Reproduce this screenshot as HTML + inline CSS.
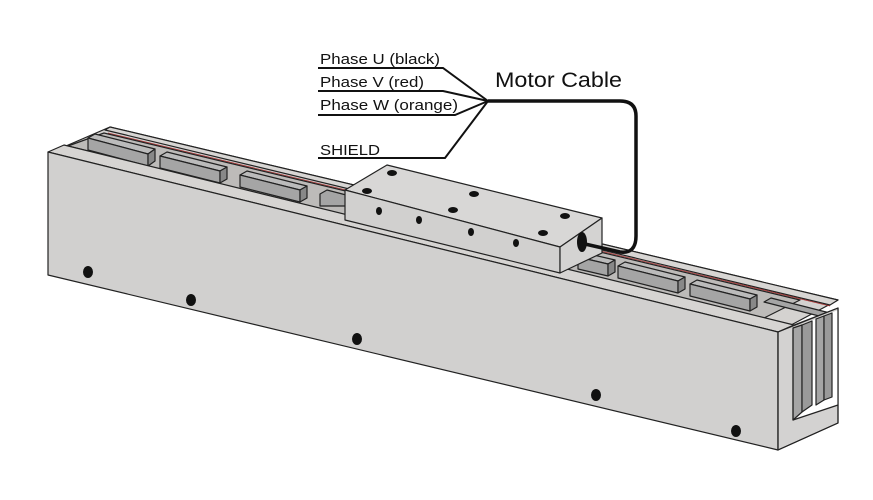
<!DOCTYPE html>
<html><head><style>body{margin:0;background:#fff}svg{display:block}</style></head><body>
<svg width="873" height="500" viewBox="0 0 873 500" xmlns="http://www.w3.org/2000/svg" font-family="Liberation Sans, sans-serif">
<g stroke="#222" stroke-width="1.2" stroke-linejoin="round">
<polygon points="52,152 110,127 838,300 778,332" fill="#d4d2d0"/>
<polygon points="105,130 110,127 838,300 830,305" fill="#d8d6d4"/>
<line x1="108" y1="133" x2="830" y2="306" stroke="#a33" stroke-width="0.8"/>
<polygon points="68,146 104,133 800,300 760,320" fill="#bdbbb9"/>
<g fill="#a5a5a5">
<polygon points="88,138 95,134 155,149 148,154" fill="#bbb"/>
<polygon points="88,138 148,154 148,166 88,150"/>
<polygon points="148,154 155,149 155,161 148,166" fill="#888"/>
<polygon points="160,156 167,152 227,167 220,171" fill="#bbb"/>
<polygon points="160,156 220,171 220,183 160,168"/>
<polygon points="220,171 227,167 227,179 220,183" fill="#888"/>
<polygon points="240,175 247,171 307,186 300,190" fill="#bbb"/>
<polygon points="240,175 300,190 300,202 240,187"/>
<polygon points="300,190 307,186 307,198 300,202" fill="#888"/>
<polygon points="320,194 327,190 350,196 350,206 320,206"/>
<polygon points="578,257 585,253 615,260 608,264" fill="#bbb"/>
<polygon points="578,257 608,264 608,276 578,269"/>
<polygon points="608,264 615,260 615,272 608,276" fill="#888"/>
<polygon points="618,266 625,262 685,277 678,281" fill="#bbb"/>
<polygon points="618,266 678,281 678,293 618,278"/>
<polygon points="678,281 685,277 685,289 678,293" fill="#888"/>
<polygon points="690,284 697,280 757,295 750,299" fill="#bbb"/>
<polygon points="690,284 750,299 750,311 690,296"/>
<polygon points="750,299 757,295 757,307 750,311" fill="#888"/>
<polygon points="764,302 771,298 830,313 823,317"/>
</g>
<polygon points="48,152 64,145 794,325 778,332" fill="#d6d4d2"/>
<polygon points="48,152 778,332 778,450 48,275" fill="#d1d0cf"/>
<polygon points="778,332 794,325 838,308 838,423 778,450" fill="#d3d2d1"/>
<polygon points="793,328 838,310 838,405 793,420" fill="#fff" stroke="none"/>
<polygon points="793,328 802,325 802,412 793,420" fill="#a5a5a5"/>
<polygon points="802,325 812,321 812,405 802,412" fill="#9a9a9a"/>
<polygon points="816,319 824,316 824,400 816,405" fill="#a5a5a5"/>
<polygon points="824,316 832,313 832,397 824,400" fill="#9a9a9a"/>
<polyline points="793,330 793,420 838,405" fill="none"/>
<polygon points="838,308 838,423 778,450 778,332" fill="none"/>
<polygon points="345,190 387,165 602,218 560,247" fill="#d8d7d6"/>
<polygon points="345,190 560,247 560,273 345,220" fill="#d1d0cf"/>
<polygon points="560,247 602,218 602,253 560,273" fill="#d4d3d2"/>
</g>
<g fill="#111">
<ellipse cx="88" cy="272" rx="5" ry="6"/><ellipse cx="191" cy="300" rx="5" ry="6"/>
<ellipse cx="357" cy="339" rx="5" ry="6"/><ellipse cx="596" cy="395" rx="5" ry="6"/>
<ellipse cx="736" cy="431" rx="5" ry="6"/>
<ellipse cx="392" cy="173" rx="5" ry="3"/><ellipse cx="367" cy="191" rx="5" ry="3"/>
<ellipse cx="474" cy="194" rx="5" ry="3"/><ellipse cx="453" cy="210" rx="5" ry="3"/>
<ellipse cx="565" cy="216" rx="5" ry="3"/><ellipse cx="543" cy="233" rx="5" ry="3"/>
<ellipse cx="379" cy="211" rx="3" ry="4"/><ellipse cx="419" cy="220" rx="3" ry="4"/>
<ellipse cx="471" cy="232" rx="3" ry="4"/><ellipse cx="516" cy="243" rx="3" ry="4"/>
<ellipse cx="582" cy="242" rx="5" ry="10"/>
</g>
<path d="M585,244 L620,252 Q636,254 636,236 L636,116 Q636,101 620,101 L488,101" fill="none" stroke="#111" stroke-width="3.5"/>
<g stroke="#111" stroke-width="2" fill="none">
<polyline points="318,68 443,68 488,101"/>
<polyline points="318,91 443,91 488,101"/>
<polyline points="318,115 455,115 488,101"/>
<polyline points="318,158 445,158 488,101"/>
</g>
<g font-size="15" fill="#111">
<text x="320" y="64" textLength="120" lengthAdjust="spacingAndGlyphs">Phase U (black)</text>
<text x="320" y="87" textLength="104" lengthAdjust="spacingAndGlyphs">Phase V (red)</text>
<text x="320" y="110" textLength="138" lengthAdjust="spacingAndGlyphs">Phase W (orange)</text>
<text x="320" y="155" textLength="60" lengthAdjust="spacingAndGlyphs">SHIELD</text>
</g>
<text x="495" y="87" font-size="21" fill="#111" textLength="127" lengthAdjust="spacingAndGlyphs">Motor Cable</text>
</svg>
</body></html>
